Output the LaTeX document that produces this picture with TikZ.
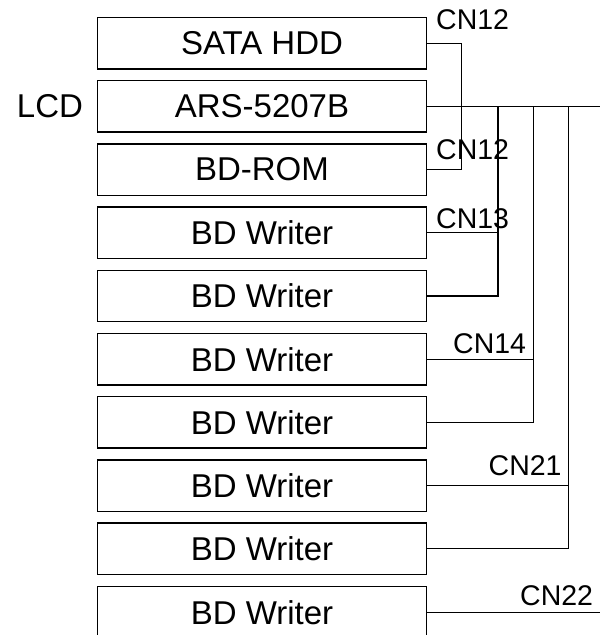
\documentclass[tikz,border=0pt]{standalone}
\usepackage{fontspec}
\setmainfont{Liberation Sans}
\begin{document}
\begin{tikzpicture}[x=1pt,y=-1pt,
  devbox/.style={draw=black,line width=1.4pt,minimum width=329pt,minimum height=51.5pt,inner sep=0pt,font=\fontsize{33}{36}\selectfont},
  cnlabel/.style={inner sep=0pt,anchor=base west,font=\fontsize{28.5}{32}\selectfont},
  wire/.style={draw=black,line width=1.3pt},
  bus/.style={draw=black,line width=1.8pt}]
\useasboundingbox (0,0) rectangle (600,635);
\clip (0,0) rectangle (600,635);
% boxes
\node[devbox] (hdd) at (262,43.2) {SATA HDD};
\node[devbox] (ars) at (262,106.4) {ARS-5207B};
\node[devbox] (rom) at (262,169.6) {BD-ROM};
\node[devbox] (w1) at (262,232.8) {BD Writer};
\node[devbox] (w2) at (262,296.0) {BD Writer};
\node[devbox] (w3) at (262,359.2) {BD Writer};
\node[devbox] (w4) at (262,422.4) {BD Writer};
\node[devbox] (w5) at (262,485.6) {BD Writer};
\node[devbox] (w6) at (262,548.8) {BD Writer};
\node[devbox,minimum height=60pt] (w7) at (262,616.3) {};
\node[inner sep=0pt,font=\fontsize{33}{36}\selectfont] (w7t) at (262,612.2) {BD Writer};
\fill[white] (90,640) rectangle (440,660);
\node[inner sep=0pt,font=\fontsize{33}{36}\selectfont] (lcd) at (50,106.5) {LCD};
% bus coordinates
\coordinate (b1) at (461.3,106.4);
\coordinate (b2) at (498,106.4);
\coordinate (b3) at (533.3,106.4);
\coordinate (b4) at (568.3,106.4);
\coordinate (bend) at (600,106.4);
\coordinate (c1) at (461.3,43.2);
\coordinate (c2) at (461.3,169.6);
\coordinate (c3) at (498,232.8);
\coordinate (c4) at (498,296.0);
\coordinate (c5) at (533.3,359.2);
\coordinate (c6) at (533.3,422.4);
\coordinate (c7) at (568.3,485.6);
\coordinate (c8) at (568.3,548.8);
\coordinate (c9) at (600,612.2);
% connectors
\draw[bus] (ars.east) -- (bend);
\draw[wire] (hdd.east) -- (c1) -- (c2) -- (rom.east);
\draw[wire] (w1.east) -- (c3) -- (c4) -- (w2.east);
\draw[wire] (b2) -- (c3);
\draw[wire] (w3.east) -- (c5) -- (c6) -- (w4.east);
\draw[wire] (b3) -- (c5);
\draw[wire] (w5.east) -- (c7) -- (c8) -- (w6.east);
\draw[wire] (b4) -- (c7);
\draw[wire] (w7.east |- c9) -- (c9);
% labels
\node[cnlabel] (l1) at (436,29.3) {CN12};
\node[cnlabel] (l2) at (436,159.3) {CN12};
\node[cnlabel] (l3) at (436,228.3) {CN13};
\node[cnlabel] (l4) at (453,353.3) {CN14};
\node[cnlabel] (l5) at (488.5,475) {CN21};
\node[cnlabel] (l6) at (520,605) {CN22};
\end{tikzpicture}
\end{document}
